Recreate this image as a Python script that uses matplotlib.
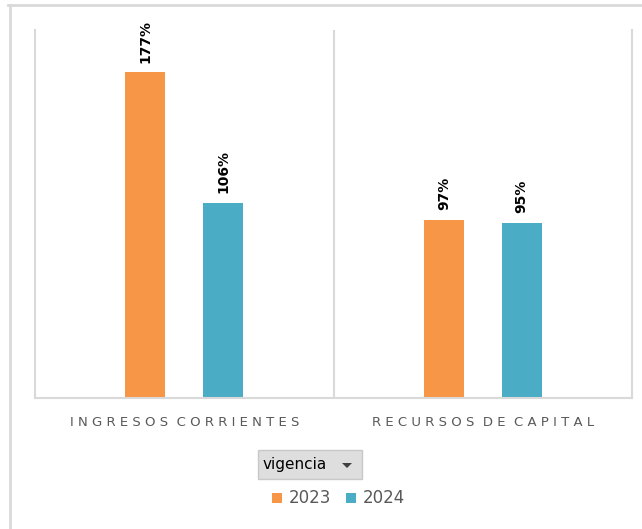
import numpy as np
import matplotlib.pyplot as plt
from matplotlib.patches import Rectangle, Polygon
from matplotlib.lines import Line2D

#%%
#------ Datos -------
categorias  = ['INGRESOS CORRIENTES', 'RECURSOS DE CAPITAL']
vig_2023    = [177, 97]
vig_2024    = [106, 95]
anios       = ['2023', '2024']

naranja     = '#F79646'
celeste     = '#4BACC6'
gris        = '#D9D9D9'
gris_txt    = '#595959'

#%%
#------ Figura -------
fig = plt.figure(figsize=(6.42, 5.29), dpi=100)
ax  = fig.add_axes([35/642, 1-398/529, 597/642, 368/529])

x       = np.arange(len(categorias))
ancho   = 0.134
desp    = 0.13

b1 = ax.bar(x - desp, vig_2023, ancho, color=naranja)
b2 = ax.bar(x + desp, vig_2024, ancho, color=celeste)

# etiquetas de valores, rotadas
for barras in (b1, b2):
    for b in barras:
        ax.annotate(str(int(b.get_height())) + '%',
                    (b.get_x() + b.get_width()/2, b.get_height()),
                    xytext=(0, 7), textcoords='offset points',
                    rotation=90, ha='center', va='bottom',
                    fontsize=10, fontweight='bold', color='black')

ax.set_xlim(-0.5, 1.5)
ax.set_ylim(0, 200)
ax.set_yticks([])
ax.set_xticks(x)
# texto espaciado entre letras
etiquetas = ['  '.join(' '.join(p) for p in c.split()) for c in categorias]
ax.set_xticklabels(etiquetas, fontsize=9.5, color=gris_txt)
ax.tick_params(axis='x', length=0, pad=13)

# lineas separadoras de categoria
ax.axvline(0.5, color=gris, lw=1.5)
for lado in ['left', 'right', 'bottom']:
    ax.spines[lado].set_color(gris)
    ax.spines[lado].set_linewidth(1.5)
ax.spines['top'].set_visible(False)

#%%
#------ Marco exterior -------
fig.add_artist(Line2D([8/642, 1], [1-5/529, 1-5/529], color=gris, lw=2, transform=fig.transFigure))
fig.add_artist(Line2D([9.5/642, 9.5/642], [0, 1-5/529], color=gris, lw=2, transform=fig.transFigure))

#%%
#------ Boton de filtro "vigencia" -------
fig.patches.append(Rectangle((258/642, 1-479/529), 104/642, 29/529, transform=fig.transFigure,
                             facecolor='#DEDEDE', edgecolor='#C8C8C8', lw=1))
fig.text(263/642, 1-465/529, 'vigencia', fontsize=11, color='black', ha='left', va='center')
fig.patches.append(Polygon([[342/642, 1-463/529], [352/642, 1-463/529], [347/642, 1-468/529]],
                           closed=True, transform=fig.transFigure, facecolor='#404040', edgecolor='none'))

#%%
#------ Leyenda -------
for i, (anio, col) in enumerate(zip(anios, [naranja, celeste])):
    x0 = 272 + i*74
    fig.patches.append(Rectangle((x0/642, 1-503/529), 10/642, 10/529, transform=fig.transFigure,
                                 facecolor=col, edgecolor='none'))
    fig.text((x0+17)/642, 1-498/529, anio, fontsize=12, color=gris_txt, ha='left', va='center')

plt.savefig('out.png', dpi=100)
